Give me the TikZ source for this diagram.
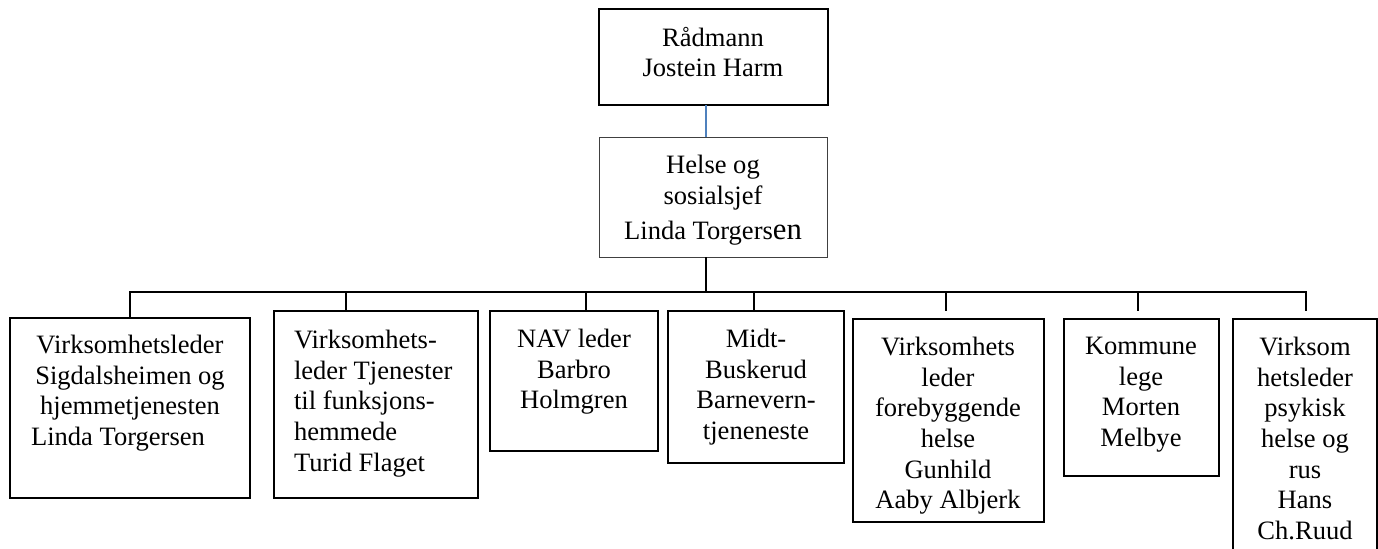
\documentclass[tikz,border=0pt]{standalone}
\usepackage{fontspec}
\setmainfont{Liberation Serif}
\definecolor{linkblue}{RGB}{79,129,189}
\begin{document}
\begin{tikzpicture}[x=0.75pt,y=-0.75pt,
  box/.style={draw=black,line width=1pt,inner sep=0pt,outer sep=0pt,anchor=north west},
  topbox/.style={box,line width=1.6pt},
  midbox/.style={box,draw=black!75,line width=0.7pt},
  txt/.style={inner sep=0pt,outer sep=0pt,align=center,anchor=north,font=\fontsize{19.9pt}{23pt}\selectfont},
  txtl/.style={txt,align=left,anchor=north west},
  conn/.style={draw=black,line width=1pt},
  blueconn/.style={draw=linkblue,line width=1pt}]
\useasboundingbox (0,0) rectangle (1378,549);
\clip (0,0) rectangle (1378,549);
% boxes
\node[topbox,minimum width=229*0.75pt,minimum height=96*0.75pt] (top) at (599,9) {};
\node[midbox,minimum width=228*0.75pt,minimum height=120*0.75pt] (mid) at (599,137) {};
\node[box,minimum width=240*0.75pt,minimum height=180*0.75pt] (b1) at (10,318) {};
\node[box,minimum width=204*0.75pt,minimum height=187*0.75pt] (b2) at (274,311) {};
\node[box,minimum width=168*0.75pt,minimum height=140*0.75pt] (b3) at (490,311) {};
\node[box,minimum width=176*0.75pt,minimum height=152*0.75pt] (b4) at (668,311) {};
\node[box,minimum width=191*0.75pt,minimum height=203*0.75pt] (b5) at (853,319) {};
\node[box,minimum width=155*0.75pt,minimum height=157*0.75pt] (b6) at (1064,319) {};
\node[box,minimum width=144*0.75pt,minimum height=261*0.75pt] (b7) at (1233,319) {};
% texts
\node[txt] (ttop) at (713,27) {Rådmann\\Jostein Harm};
\node[txt] (tmid) at (713,155) {Helse og\\sosialsjef\\[3.5pt]Linda Torgers{\fontsize{23pt}{23pt}\selectfont en}};
\node[txt] (t1) at (130,335) {Virksomhetsleder\\Sigdalsheimen og\\hjemmetjenesten\\Linda Torgersen\hspace*{18pt}};
\node[txtl] (t2) at (294,330) {Virksomhets-\\leder Tjenester\\til funksjons-\\hemmede\\Turid Flaget};
\node[txt] (t3) at (574,329) {NAV leder\\Barbro\\Holmgren};
\node[txt] (t4) at (756,329) {Midt-\\Buskerud\\Barnevern-\\tjeneneste};
\node[txt] (t5) at (948,337) {Virksomhets\\leder\\forebyggende\\helse\\Gunhild\\Aaby Albjerk};
\node[txt] (t6) at (1141,337) {Kommune\\lege\\Morten\\Melbye};
\node[txt] (t7) at (1305,337) {Virksom\\hetsleder\\psykisk\\helse og\\rus\\Hans\\Ch.Ruud};
% connector coordinates
\coordinate (c0) at (706,292);
\coordinate (d1) at (130,292);
\coordinate (d2) at (346,292);
\coordinate (d3) at (586,292);
\coordinate (d4) at (754,292);
\coordinate (d5) at (946,292);
\coordinate (d6) at (1138,292);
\coordinate (d7) at (1306,292);
\coordinate (e5) at (946,311);
\coordinate (e6) at (1138,311);
\coordinate (e7) at (1306,311);
% connectors
\draw[blueconn] (top.south -| c0) -- (mid.north -| c0);
\draw[conn] (mid.south -| c0) -- (c0);
\draw[conn,line join=miter] (d1 |- b1.north) -- (d1) -- (d7) -- (e7);
\draw[conn] (d2) -- (d2 |- b2.north);
\draw[conn] (d3) -- (d3 |- b3.north);
\draw[conn] (d4) -- (d4 |- b4.north);
\draw[conn] (d5) -- (e5);
\draw[conn] (d6) -- (e6);
\end{tikzpicture}
\end{document}
